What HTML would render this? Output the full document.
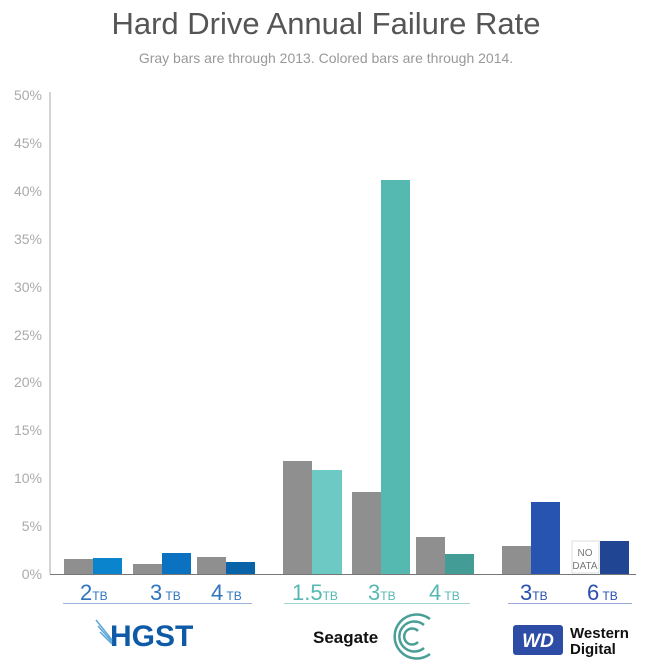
<!DOCTYPE html>
<html><head><style>body{margin:0;background:#fff}svg{display:block}</style></head><body>
<svg width="652" height="669" xmlns="http://www.w3.org/2000/svg" font-family="Liberation Sans, sans-serif">
<text x="326" y="34" text-anchor="middle" font-size="31" fill="#555">Hard Drive Annual Failure Rate</text>
<text x="326" y="63" text-anchor="middle" font-size="14" fill="#999">Gray bars are through 2013.  Colored bars are through 2014.</text>
<g font-size="14" fill="#aaa" text-anchor="end">
<text x="42" y="579">0%</text><text x="42" y="531">5%</text><text x="42" y="483">10%</text><text x="42" y="435">15%</text><text x="42" y="387">20%</text><text x="42" y="340">25%</text><text x="42" y="292">30%</text><text x="42" y="244">35%</text><text x="42" y="196">40%</text><text x="42" y="148">45%</text><text x="42" y="100">50%</text>
</g>
<line x1="50" y1="92" x2="50" y2="574" stroke="#aaa" stroke-width="1"/>
<g fill="#8f8f8f">
<rect x="64" y="559" width="29" height="15"/><rect x="133" y="564" width="29" height="10"/><rect x="197" y="557" width="29" height="17"/>
<rect x="283" y="461" width="29" height="113"/><rect x="352" y="492" width="29" height="82"/><rect x="416" y="537" width="29" height="37"/>
<rect x="502" y="546" width="29" height="28"/>
</g>
<rect x="93" y="558" width="29" height="16" fill="#0a84cc"/>
<rect x="162" y="553" width="29" height="21" fill="#0a72c0"/>
<rect x="226" y="562" width="29" height="12" fill="#0863a8"/>
<rect x="312" y="470" width="30" height="104" fill="#6cc9c3"/>
<rect x="381" y="180" width="29" height="394" fill="#55b8b1"/>
<rect x="445" y="554" width="29" height="20" fill="#449c96"/>
<rect x="531" y="502" width="29" height="72" fill="#2754b0"/>
<rect x="600" y="541" width="29" height="33" fill="#1f4593"/>
<rect x="572" y="541" width="27" height="32" fill="#fff" stroke="#ddd"/>
<text x="585" y="556" text-anchor="middle" font-size="10" fill="#777">NO</text>
<text x="585" y="569" text-anchor="middle" font-size="10" fill="#777">DATA</text>
<line x1="50" y1="574.5" x2="636" y2="574.5" stroke="#777" stroke-width="1"/>
<g font-size="22" fill="#2f74bf">
<text x="80" y="600">2<tspan font-size="12">TB</tspan></text>
<text x="150" y="600">3<tspan font-size="12"> TB</tspan></text>
<text x="211" y="600">4<tspan font-size="12"> TB</tspan></text>
</g>
<g font-size="22" fill="#55b8b1">
<text x="292" y="600">1.5<tspan font-size="12">TB</tspan></text>
<text x="368" y="600">3<tspan font-size="12">TB</tspan></text>
<text x="429" y="600">4<tspan font-size="12"> TB</tspan></text>
</g>
<g font-size="22" fill="#2a4fae">
<text x="520" y="600">3<tspan font-size="12">TB</tspan></text>
<text x="587" y="600">6<tspan font-size="12"> TB</tspan></text>
</g>
<line x1="63" y1="603.5" x2="252" y2="603.5" stroke="#9bb3d8"/>
<line x1="284" y1="603.5" x2="470" y2="603.5" stroke="#9fd6d2"/>
<line x1="508" y1="603.5" x2="632" y2="603.5" stroke="#9aa8d8"/>
<text x="110" y="646" font-size="30" font-weight="bold" fill="#0e5aa7">HGST</text>
<g stroke="#5aa6d8" stroke-width="1.5"><line x1="96" y1="620" x2="112" y2="640"/><line x1="98" y1="626" x2="112" y2="642"/><line x1="100" y1="632" x2="112" y2="644"/></g>
<text x="313" y="643" font-size="17" font-weight="bold" fill="#111">Seagate</text>
<g fill="none" stroke="#4a9e98" stroke-width="2.5">
<path d="M430 619 A22 22 0 1 0 430 654"/><path d="M424 625 A15 15 0 1 0 424 648"/><path d="M418 631 A8 8 0 1 0 418 642"/>
</g>
<rect x="513" y="625" width="50" height="30" rx="3" fill="#2c4ca5"/>
<text x="538" y="647" text-anchor="middle" font-size="19" font-weight="bold" font-style="italic" fill="#fff">WD</text>
<text x="570" y="638" font-size="15" font-weight="bold" fill="#111">Western</text>
<text x="570" y="654" font-size="15" font-weight="bold" fill="#111">Digital</text>
</svg>
</body></html>
